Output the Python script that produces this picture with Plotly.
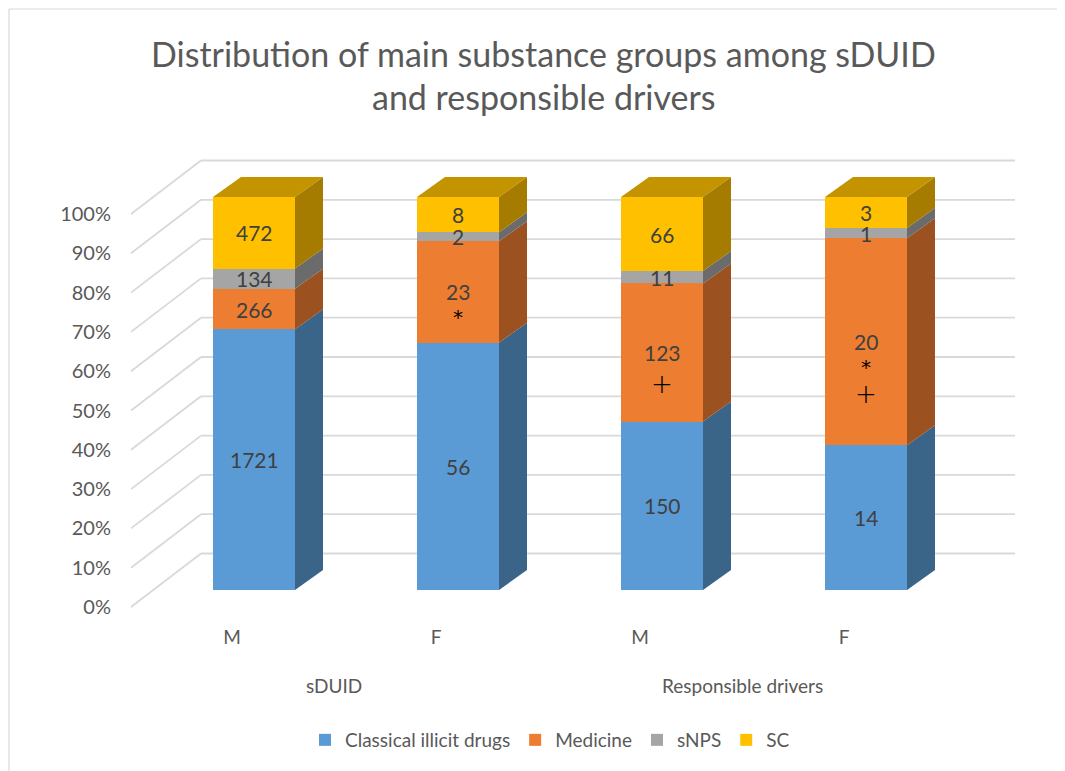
import plotly.graph_objects as go

# ---------------- data ----------------
title_lines = ["Distribution of main substance groups among sDUID", "and responsible drivers"]
groups = ["sDUID", "Responsible drivers"]
sexes = ["M", "F", "M", "F"]
series_names = ["Classical illicit drugs", "Medicine", "sNPS", "SC"]
classical = [1721, 56, 150, 14]
medicine = [266, 23, 123, 20]
snps = [134, 2, 11, 1]
sc = [472, 8, 66, 3]
medicine_marks = [[], ["*"], ["+"], ["*", "+"]]
y_ticks = list(range(0, 101, 10))

# ---------------- style ----------------
front_colors = ["#5B9BD5", "#ED7D31", "#A5A5A5", "#FFC000"]
side_colors = ["#3B6489", "#9C5121", "#6B6B6B", "#A67C00"]
top_color = "#C39300"
grid_color = "#D9D9D9"
text_color = "#595959"
label_color = "#404040"
FONT = "Lato"

OFF = 8                                        # page body margin
W, H = 1065 - OFF, 771 - OFF
# screen pixel geometry
PL, PR, PT, PB = 120, 1030, 140, 620           # plot area (screen px)
PX_X = 204.0
X0_PX = 254.0
PX_Y = 3.93
Y0_PX = 590.0

BAR_W = 82 / PX_X
DX, DY = 28 / PX_X, 20 / PX_Y
FX, FY = -22 / PX_X, -17 / PX_Y
WALL_L_FRONT = (131 - X0_PX) / PX_X
WALL_L_BACK = (201 - X0_PX) / PX_X
WALL_R = (1015 - X0_PX) / PX_X
BACK_Y = 36.5 / PX_Y

x_range = [(PL - X0_PX) / PX_X, (PR - X0_PX) / PX_X]
y_range = [(Y0_PX - PB) / PX_Y, (Y0_PX - PT) / PX_Y]


def paper_x(px):
    return (px - PL) / (PR - PL)


def paper_y(py):
    return (PB - py) / (PB - PT)


series_vals = [classical, medicine, snps, sc]
n = len(sexes)
totals = [sum(s[i] for s in series_vals) for i in range(n)]
pcts = [[s[i] / totals[i] * 100 for i in range(n)] for s in series_vals]
xs = list(range(n))

fig = go.Figure()

shapes = []
for k in y_ticks:
    shapes.append(dict(type="line", xref="x", yref="y", layer="below",
                       x0=WALL_L_BACK, x1=WALL_R, y0=k + BACK_Y, y1=k + BACK_Y,
                       line=dict(color=grid_color, width=1.8)))
    shapes.append(dict(type="line", xref="x", yref="y", layer="below",
                       x0=WALL_L_FRONT, x1=WALL_L_BACK, y0=k + FY, y1=k + BACK_Y,
                       line=dict(color=grid_color, width=1.8)))
# chart border (top and left edges only visible)
shapes.append(dict(type="line", xref="paper", yref="paper", layer="below",
                   x0=paper_x(9), x1=paper_x(1070), y0=paper_y(9), y1=paper_y(9),
                   line=dict(color="#D9D9D9", width=1.2)))
shapes.append(dict(type="line", xref="paper", yref="paper", layer="below",
                   x0=paper_x(9), x1=paper_x(9), y0=paper_y(9), y1=paper_y(780),
                   line=dict(color="#D9D9D9", width=1.2)))

for s, name in enumerate(series_names):
    fig.add_trace(go.Bar(x=xs, y=pcts[s], name=name, width=BAR_W,
                         marker=dict(color=front_colors[s], line=dict(width=0)),
                         hoverinfo="skip"))

for s in range(len(series_names)):
    px, py = [], []
    for i in range(n):
        lo = sum(pcts[j][i] for j in range(s))
        hi = lo + pcts[s][i]
        xr = i + BAR_W / 2
        px += [xr, xr + DX, xr + DX, xr, xr, None]
        py += [lo, lo + DY, hi + DY, hi, lo, None]
    fig.add_trace(go.Scatter(x=px, y=py, mode="lines", fill="toself",
                             fillcolor=side_colors[s], line=dict(width=0),
                             showlegend=False, hoverinfo="skip"))
tx, ty = [], []
for i in range(n):
    xl, xr = i - BAR_W / 2, i + BAR_W / 2
    top = sum(pcts[j][i] for j in range(len(series_names)))
    tx += [xl, xl + DX, xr + DX, xr, xl, None]
    ty += [top, top + DY, top + DY, top, top, None]
fig.add_trace(go.Scatter(x=tx, y=ty, mode="lines", fill="toself", fillcolor=top_color,
                         line=dict(width=0), showlegend=False, hoverinfo="skip"))

annotations = []
for s in range(len(series_names)):
    for i in range(n):
        lo = sum(pcts[j][i] for j in range(s))
        mid = lo + pcts[s][i] / 2
        annotations.append(dict(x=i, y=mid, xref="x", yref="y", text=str(series_vals[s][i]),
                                showarrow=False, yanchor="middle", borderpad=0,
                                font=dict(family=FONT, size=21, color=label_color)))
        if s == 1:
            for m_i, mark in enumerate(medicine_marks[i]):
                if mark == "*":
                    f = dict(family="DejaVu Sans", size=20, color="#000000")
                    shift = -25 - 26 * m_i
                else:
                    f = dict(family="DejaVu Sans", size=26, color="#000000", weight=200)
                    shift = -31 - 21 * m_i
                annotations.append(dict(x=i, y=mid, xref="x", yref="y", text=mark, yshift=shift,
                                        showarrow=False, yanchor="middle", font=f))

for g, name in enumerate(groups):
    gx = (2 * g + 2 * g + 1) / 2 + FX
    annotations.append(dict(x=gx, y=paper_y(685), xref="x", yref="paper", yanchor="middle",
                            text=name, showarrow=False,
                            font=dict(family=FONT, size=19, color=text_color)))

for li, (line, ly) in enumerate(zip(title_lines, [53, 96])):
    annotations.append(dict(x=paper_x(543), y=paper_y(ly), xref="paper", yref="paper",
                            xanchor="center", yanchor="middle", text=line, showarrow=False,
                            font=dict(family=FONT, size=34, color=text_color)))

fig.update_layout(
    width=W, height=H,
    margin=dict(l=PL - OFF, r=W - (PR - OFF), t=PT - OFF, b=H - (PB - OFF)),
    paper_bgcolor="white", plot_bgcolor="rgba(0,0,0,0)",
    barmode="stack", bargap=0,
    xaxis=dict(range=x_range, tickvals=[i + FX for i in xs], ticktext=sexes,
               showgrid=False, zeroline=False, showline=False, ticks="",
               tickfont=dict(family=FONT, size=19, color=text_color), ticklabelstandoff=4),
    yaxis=dict(range=y_range, tickvals=[k + FY for k in y_ticks],
               ticktext=[f"{k}%" for k in y_ticks],
               showgrid=False, zeroline=False, showline=False, ticks="",
               tickfont=dict(family=FONT, size=20, color=text_color), ticklabelstandoff=8),
    legend=dict(orientation="h", xref="container", yref="container", x=(550 - OFF) / W,
                xanchor="center", y=1 - (740 - OFF) / H, yanchor="middle", traceorder="normal",
                font=dict(family=FONT, size=19, color=text_color)),
    shapes=shapes, annotations=annotations, showlegend=True,
)

fig.write_html("out.html")
